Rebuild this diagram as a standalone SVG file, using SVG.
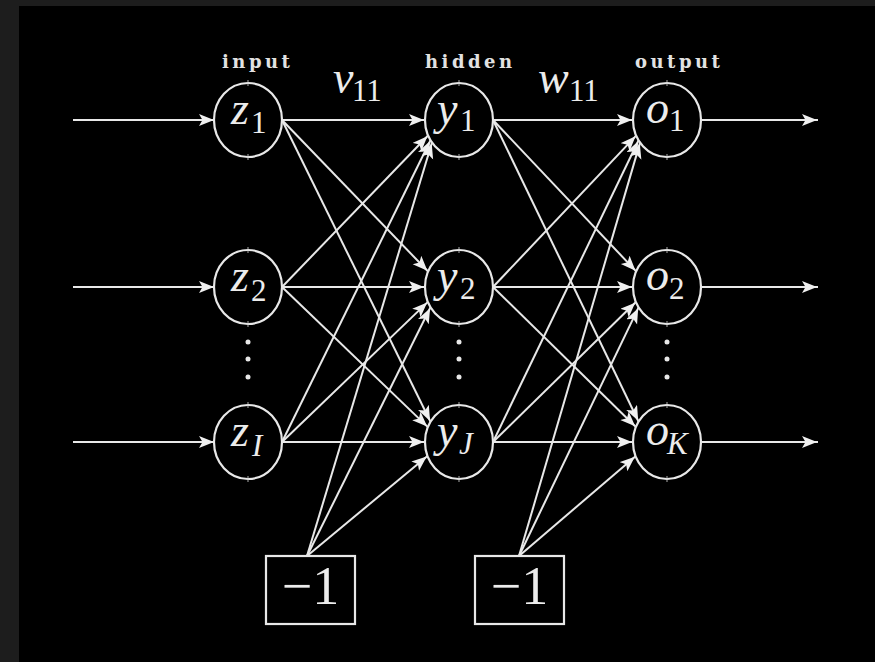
<svg xmlns="http://www.w3.org/2000/svg" width="875" height="662" viewBox="0 0 875 662">
  <defs>
    <marker id="arrow" markerUnits="userSpaceOnUse" markerWidth="18" markerHeight="14" refX="16" refY="6" orient="auto">
      <path d="M0,0 L15,6 L0,12 L3.5,6 Z" fill="#f0f0f0"/>
    </marker>
    <style>
      .edge { stroke: #e8e8e8; stroke-width: 2; fill: none; marker-end: url(#arrow); }
      .ring { stroke: #e8e8e8; stroke-width: 2.2; fill: none; }
      .tick { stroke: #cfcfcf; stroke-width: 1.2; opacity: 0.7; }
      .box { stroke: #e8e8e8; stroke-width: 2.2; fill: none; }
      .dot { fill: #e8e8e8; }
      .layer { font-family: "DejaVu Serif", "Liberation Serif", serif; font-weight: bold; font-size: 18px; letter-spacing: 3.5px; fill: #e2e2e2; }
      .var { font-family: "Liberation Serif", "Times New Roman", serif; font-style: italic; font-size: 46px; fill: #ececec; }
      .sub { font-family: "Liberation Serif", "Times New Roman", serif; font-size: 31px; fill: #ececec; }
      .subi { font-family: "Liberation Serif", "Times New Roman", serif; font-style: italic; font-size: 31px; fill: #ececec; }
      .bias { font-family: "Liberation Serif", "Times New Roman", serif; font-size: 54px; fill: #ececec; text-anchor: middle; }
    </style>
  </defs>

  <!-- frame -->
  <rect x="0" y="0" width="875" height="662" fill="#1d1d1d"/>
  <rect x="19" y="6" width="856" height="656" fill="#000000"/>

  <!-- layer captions -->
  <text class="layer" x="222" y="68">input</text>
  <text class="layer" x="425" y="68">hidden</text>
  <text class="layer" x="635" y="68">output</text>

  <!-- weight labels -->
  <text class="var" x="333" y="93">v</text>
  <text class="sub" x="352" y="101">11</text>
  <text class="var" x="538" y="93">w</text>
  <text class="sub" x="569" y="101">11</text>

  <g id="connectors">
    <!-- inputs and outputs -->
    <line class="edge" x1="73" y1="120" x2="215" y2="120"/>
    <line class="edge" x1="73" y1="287" x2="215" y2="287"/>
    <line class="edge" x1="73" y1="442" x2="215" y2="442"/>
    <line class="edge" x1="701" y1="120" x2="818" y2="120"/>
    <line class="edge" x1="701" y1="287" x2="818" y2="287"/>
    <line class="edge" x1="701" y1="442" x2="818" y2="442"/>

    <!-- input -> hidden -->
    <line class="edge" x1="282" y1="120" x2="425" y2="120"/>
    <line class="edge" x1="282" y1="120" x2="428.1" y2="271.5"/>
    <line class="edge" x1="282" y1="120" x2="430.5" y2="421.8"/>
    <line class="edge" x1="282" y1="287" x2="428.1" y2="135.5"/>
    <line class="edge" x1="282" y1="287" x2="425" y2="287"/>
    <line class="edge" x1="282" y1="287" x2="427.9" y2="427.1"/>
    <line class="edge" x1="282" y1="442" x2="430.5" y2="140.2"/>
    <line class="edge" x1="282" y1="442" x2="427.9" y2="301.9"/>
    <line class="edge" x1="282" y1="442" x2="425" y2="442"/>
    <!-- bias -> hidden -->
    <line class="edge" x1="307" y1="556" x2="432" y2="142.5"/>
    <line class="edge" x1="307" y1="556" x2="430.5" y2="307.3"/>
    <line class="edge" x1="307" y1="556" x2="427.5" y2="455.9"/>

    <!-- hidden -> output -->
    <line class="edge" x1="493" y1="120" x2="633" y2="120"/>
    <line class="edge" x1="493" y1="120" x2="636.2" y2="271.4"/>
    <line class="edge" x1="493" y1="120" x2="638.6" y2="421.7"/>
    <line class="edge" x1="493" y1="287" x2="636.2" y2="135.6"/>
    <line class="edge" x1="493" y1="287" x2="633" y2="287"/>
    <line class="edge" x1="493" y1="287" x2="635.9" y2="427"/>
    <line class="edge" x1="493" y1="442" x2="638.6" y2="140.3"/>
    <line class="edge" x1="493" y1="442" x2="635.9" y2="302"/>
    <line class="edge" x1="493" y1="442" x2="633" y2="442"/>
    <!-- bias -> output -->
    <line class="edge" x1="519" y1="556" x2="640.1" y2="142.6"/>
    <line class="edge" x1="519" y1="556" x2="638.6" y2="307.4"/>
    <line class="edge" x1="519" y1="556" x2="635.6" y2="456.2"/>
  </g>

  <!-- input units -->
  <g id="z1">
    <ellipse class="ring" cx="248" cy="120" rx="34" ry="37"/>
    <line class="tick" x1="248" y1="80" x2="248" y2="86"/><line class="tick" x1="248" y1="154" x2="248" y2="160"/>
    <text class="var" x="231" y="124">z</text><text class="sub" x="251" y="133">1</text>
  </g>
  <g id="z2">
    <ellipse class="ring" cx="248" cy="287" rx="34" ry="37"/>
    <line class="tick" x1="248" y1="247" x2="248" y2="253"/><line class="tick" x1="248" y1="321" x2="248" y2="327"/>
    <text class="var" x="231" y="291">z</text><text class="sub" x="251" y="301">2</text>
  </g>
  <g id="zI">
    <ellipse class="ring" cx="248" cy="442" rx="34" ry="37"/>
    <line class="tick" x1="248" y1="402" x2="248" y2="408"/><line class="tick" x1="248" y1="476" x2="248" y2="482"/>
    <text class="var" x="231" y="446">z</text><text class="subi" x="252" y="456">I</text>
  </g>

  <!-- hidden units -->
  <g id="y1">
    <ellipse class="ring" cx="459" cy="120" rx="34" ry="37"/>
    <line class="tick" x1="459" y1="80" x2="459" y2="86"/><line class="tick" x1="459" y1="154" x2="459" y2="160"/>
    <text class="var" x="437" y="124">y</text><text class="sub" x="460" y="131">1</text>
  </g>
  <g id="y2">
    <ellipse class="ring" cx="459" cy="287" rx="34" ry="37"/>
    <line class="tick" x1="459" y1="247" x2="459" y2="253"/><line class="tick" x1="459" y1="321" x2="459" y2="327"/>
    <text class="var" x="437" y="291">y</text><text class="sub" x="460" y="299">2</text>
  </g>
  <g id="yJ">
    <ellipse class="ring" cx="459" cy="442" rx="34" ry="37"/>
    <line class="tick" x1="459" y1="402" x2="459" y2="408"/><line class="tick" x1="459" y1="476" x2="459" y2="482"/>
    <text class="var" x="437" y="446">y</text><text class="subi" x="459" y="454">J</text>
  </g>

  <!-- output units -->
  <g id="o1">
    <ellipse class="ring" cx="667" cy="120" rx="34" ry="37"/>
    <line class="tick" x1="667" y1="80" x2="667" y2="86"/><line class="tick" x1="667" y1="154" x2="667" y2="160"/>
    <text class="var" x="646" y="123">o</text><text class="sub" x="669" y="131">1</text>
  </g>
  <g id="o2">
    <ellipse class="ring" cx="667" cy="287" rx="34" ry="37"/>
    <line class="tick" x1="667" y1="247" x2="667" y2="253"/><line class="tick" x1="667" y1="321" x2="667" y2="327"/>
    <text class="var" x="646" y="290">o</text><text class="sub" x="669" y="299">2</text>
  </g>
  <g id="oK">
    <ellipse class="ring" cx="667" cy="442" rx="34" ry="37"/>
    <line class="tick" x1="667" y1="402" x2="667" y2="408"/><line class="tick" x1="667" y1="476" x2="667" y2="482"/>
    <text class="var" x="646" y="445">o</text><text class="subi" x="667" y="454">K</text>
  </g>

  <!-- vertical ellipses between units -->
  <g id="ellipsis-input">
    <circle class="dot" cx="248" cy="342" r="2.5"/><circle class="dot" cx="248" cy="359" r="2.5"/><circle class="dot" cx="248" cy="377" r="2.5"/>
  </g>
  <g id="ellipsis-hidden">
    <circle class="dot" cx="459" cy="342" r="2.5"/><circle class="dot" cx="459" cy="359" r="2.5"/><circle class="dot" cx="459" cy="377" r="2.5"/>
  </g>
  <g id="ellipsis-output">
    <circle class="dot" cx="667" cy="342" r="2.5"/><circle class="dot" cx="667" cy="359" r="2.5"/><circle class="dot" cx="667" cy="377" r="2.5"/>
  </g>

  <!-- bias units -->
  <g id="bias-hidden">
    <rect class="box" x="266" y="556" width="89" height="68"/>
    <text class="bias" x="310.5" y="604">−1</text>
  </g>
  <g id="bias-output">
    <rect class="box" x="475" y="556" width="89" height="68"/>
    <text class="bias" x="519.5" y="604">−1</text>
  </g>
</svg>
